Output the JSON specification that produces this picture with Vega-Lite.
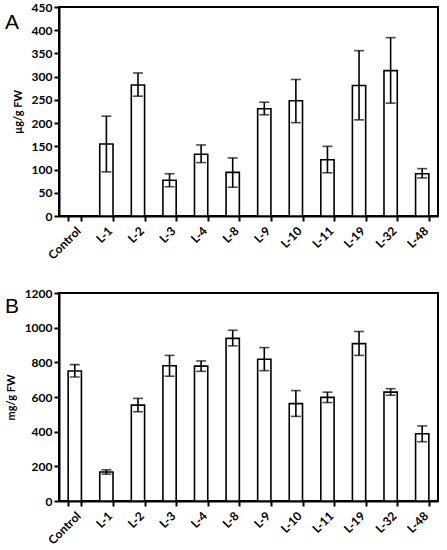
{
  "$schema": "https://vega.github.io/schema/vega-lite/v6.json",
  "background": "white",
  "padding": {"left": 4, "top": 0, "right": 6, "bottom": 2},
  "config": {
    "font": "Lato",
    "view": {"stroke": "black", "strokeWidth": 2},
    "axis": {
      "labelFont": "Lato",
      "labelFontWeight": "bold",
      "labelFontSize": 12,
      "labelColor": "black",
      "labelOverlap": false,
      "labelFlush": false,
      "titleFont": "Lato",
      "titleFontWeight": "bold",
      "titleFontSize": 11,
      "titleColor": "black",
      "domainColor": "black",
      "domainWidth": 2,
      "tickColor": "black",
      "tickWidth": 2,
      "tickSize": 5,
      "grid": false
    },
    "title": {"font": "Liberation Sans", "fontSize": 21, "fontWeight": "normal", "anchor": "start", "frame": "group", "color": "black"}
  },
  "spacing": 23,
  "vconcat": [
    {
      "title": {"text": "A", "dx": -54, "dy": 32, "offset": 0},
      "width": 379,
      "height": 209,
      "data": {
        "values": [
          {"line": "Control", "mean": 0, "lo": null, "hi": null},
          {"line": "L-1", "mean": 155, "lo": 95, "hi": 215},
          {"line": "L-2", "mean": 282, "lo": 258, "hi": 308},
          {"line": "L-3", "mean": 77, "lo": 63, "hi": 91},
          {"line": "L-4", "mean": 133, "lo": 115, "hi": 153},
          {"line": "L-8", "mean": 94, "lo": 62, "hi": 125},
          {"line": "L-9", "mean": 231, "lo": 218, "hi": 245},
          {"line": "L-10", "mean": 248, "lo": 201, "hi": 294},
          {"line": "L-11", "mean": 121, "lo": 93, "hi": 150},
          {"line": "L-19", "mean": 281, "lo": 207, "hi": 356},
          {"line": "L-32", "mean": 313, "lo": 243, "hi": 384},
          {"line": "L-48", "mean": 91, "lo": 82, "hi": 102}
        ]
      },
      "encoding": {
        "x": {
          "field": "line", "type": "nominal", "sort": null, "title": null,
          "scale": {
            "domain": ["Control", "L-1", "L-2", "L-3", "L-4", "L-8", "L-9", "L-10", "L-11", "L-19", "L-32", "L-48"],
            "paddingInner": 0.58, "paddingOuter": 0.29
          },
          "axis": {"labelAngle": -45, "tickBand": "extent", "labelPadding": 4}
        }
      },
      "layer": [
        {
          "transform": [{"filter": "datum.mean > 0"}],
          "mark": {"type": "bar", "fill": "white", "stroke": "black", "strokeWidth": 1.6},
          "encoding": {
            "y": {
              "field": "mean", "type": "quantitative", "title": "µg/g FW",
              "scale": {"domain": [0, 450]},
              "axis": {"values": [0, 50, 100, 150, 200, 250, 300, 350, 400, 450], "format": "d", "titlePadding": 8}
            }
          }
        },
        {
          "transform": [{"filter": "datum.hi != null"}],
          "mark": {"type": "rule", "color": "black", "strokeWidth": 1.6},
          "encoding": {
            "y": {
              "field": "lo", "type": "quantitative", "title": "µg/g FW",
              "axis": {"values": [0, 50, 100, 150, 200, 250, 300, 350, 400, 450], "format": "d", "titlePadding": 8}
            },
            "y2": {"field": "hi"}
          }
        },
        {
          "transform": [{"filter": "datum.hi != null"}],
          "mark": {"type": "tick", "color": "black", "thickness": 1.6, "size": 10},
          "encoding": {
            "y": {
              "field": "lo", "type": "quantitative", "title": "µg/g FW",
              "axis": {"values": [0, 50, 100, 150, 200, 250, 300, 350, 400, 450], "format": "d", "titlePadding": 8}
            }
          }
        },
        {
          "transform": [{"filter": "datum.hi != null"}],
          "mark": {"type": "tick", "color": "black", "thickness": 1.6, "size": 10},
          "encoding": {
            "y": {
              "field": "hi", "type": "quantitative", "title": "µg/g FW",
              "axis": {"values": [0, 50, 100, 150, 200, 250, 300, 350, 400, 450], "format": "d", "titlePadding": 8}
            }
          }
        }
      ]
    },
    {
      "title": {"text": "B", "dx": -54, "dy": 30, "offset": 0},
      "width": 379,
      "height": 208,
      "data": {
        "values": [
          {"line": "Control", "mean": 750, "lo": 715, "hi": 787},
          {"line": "L-1", "mean": 167, "lo": 155, "hi": 180},
          {"line": "L-2", "mean": 553, "lo": 515, "hi": 592},
          {"line": "L-3", "mean": 780, "lo": 720, "hi": 840},
          {"line": "L-4", "mean": 778, "lo": 748, "hi": 808},
          {"line": "L-8", "mean": 938, "lo": 895, "hi": 985},
          {"line": "L-9", "mean": 818, "lo": 752, "hi": 885},
          {"line": "L-10", "mean": 562, "lo": 488, "hi": 637},
          {"line": "L-11", "mean": 598, "lo": 568, "hi": 628},
          {"line": "L-19", "mean": 908, "lo": 840, "hi": 978},
          {"line": "L-32", "mean": 628, "lo": 610, "hi": 648},
          {"line": "L-48", "mean": 388, "lo": 342, "hi": 433}
        ]
      },
      "encoding": {
        "x": {
          "field": "line", "type": "nominal", "sort": null, "title": null,
          "scale": {"paddingInner": 0.58, "paddingOuter": 0.29},
          "axis": {"labelAngle": -45, "tickBand": "extent", "labelPadding": 4}
        }
      },
      "layer": [
        {
          "mark": {"type": "bar", "fill": "white", "stroke": "black", "strokeWidth": 1.6},
          "encoding": {
            "y": {
              "field": "mean", "type": "quantitative", "title": "mg/g FW",
              "scale": {"domain": [0, 1200]},
              "axis": {"values": [0, 200, 400, 600, 800, 1000, 1200], "format": "d", "titlePadding": 8}
            }
          }
        },
        {
          "mark": {"type": "rule", "color": "black", "strokeWidth": 1.6},
          "encoding": {
            "y": {
              "field": "lo", "type": "quantitative", "title": "mg/g FW",
              "axis": {"values": [0, 200, 400, 600, 800, 1000, 1200], "format": "d", "titlePadding": 8}
            },
            "y2": {"field": "hi"}
          }
        },
        {
          "mark": {"type": "tick", "color": "black", "thickness": 1.6, "size": 10},
          "encoding": {
            "y": {
              "field": "lo", "type": "quantitative", "title": "mg/g FW",
              "axis": {"values": [0, 200, 400, 600, 800, 1000, 1200], "format": "d", "titlePadding": 8}
            }
          }
        },
        {
          "mark": {"type": "tick", "color": "black", "thickness": 1.6, "size": 10},
          "encoding": {
            "y": {
              "field": "hi", "type": "quantitative", "title": "mg/g FW",
              "axis": {"values": [0, 200, 400, 600, 800, 1000, 1200], "format": "d", "titlePadding": 8}
            }
          }
        }
      ]
    }
  ]
}
